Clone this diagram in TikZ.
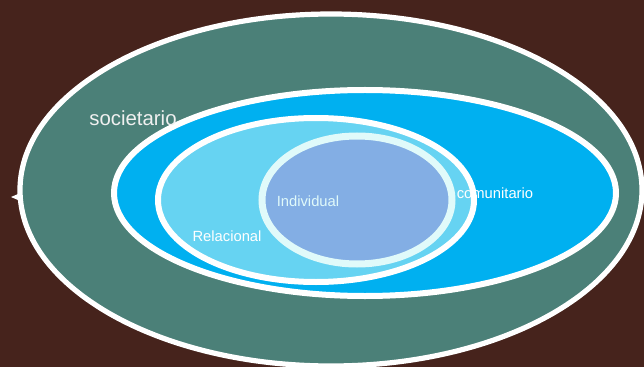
\documentclass[tikz,border=0pt]{standalone}
\usepackage{fontspec}
\setmainfont{Liberation Sans}
\usetikzlibrary{shapes.geometric}
\definecolor{fondo}{HTML}{46231C}
\definecolor{verde}{HTML}{4B8078}
\definecolor{azul}{HTML}{00B0F0}
\definecolor{celeste}{HTML}{66D3F2}
\definecolor{lila}{HTML}{83AEE4}
\definecolor{borde}{HTML}{E0FAFA}

\begin{document}
\begin{tikzpicture}[x=0.5mm,y=-0.5mm,
  ring/.style={ellipse,draw=white,inner sep=0pt,line width=3mm},
  lbl/.style={text=white,inner sep=0pt,font=\fontsize{21pt}{24pt}\selectfont}]
\useasboundingbox[fill=fondo] (0,0) rectangle (644,367);

% niveles
\node[ring,fill=verde,line width=2.6mm,minimum width=311mm,minimum height=176mm] (soc) at (331,190) {};
\node[ring,fill=azul,minimum width=251mm,minimum height=103mm] (com) at (365,193) {};
\node[ring,fill=celeste,minimum width=158mm,minimum height=82mm] (rel) at (316,200) {};
\node[ring,draw=borde,fill=lila,line width=3.5mm,minimum width=95mm,minimum height=64mm] (ind) at (357,200) {};

% textos
\node[lbl,font=\fontsize{29pt}{32pt}\selectfont,text=white!94!black] (tsoc) at (133,118) {societario};
\node[lbl] (tcom) at (495,193) {comunitario};
\node[lbl,text=borde] (tind) at (308,201) {Individual};
\node[lbl] (trel) at (227,236) {Relacional};

% marca
\fill[white] (11,197) -- (18,194) -- (18,200) -- cycle;
\end{tikzpicture}
\end{document}
